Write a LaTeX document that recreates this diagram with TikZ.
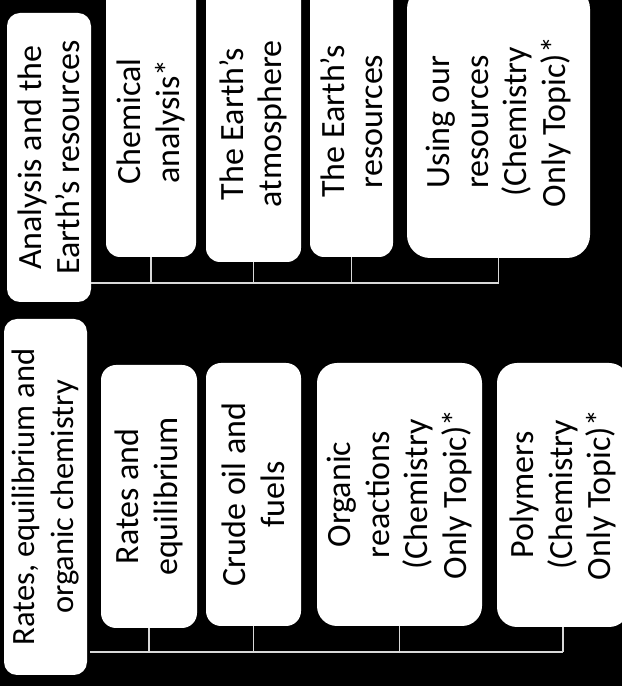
\documentclass[tikz,border=0pt]{standalone}
\usepackage{fontspec}
\setmainfont{Carlito}
\begin{document}
\begin{tikzpicture}[x=1pt,y=1pt,
  box/.style={fill=white, draw=none, rotate=90, align=center, inner sep=2pt, outer sep=0pt,
    text=black, font=\fontsize{34}{38.5}\selectfont, rounded corners=#1},
  box/.default=14pt,
  link/.style={draw=white!85!black, line width=1.4pt}]
\fill[black] (0,0) rectangle (622,686);
\useasboundingbox (0,0) rectangle (622,686);
% top group
\node[box=13pt, minimum width=289, minimum height=84] (pA) at (49,528.5)
  {Analysis and the\\Earth’s resources};
\node[box, minimum width=271, minimum height=90] (a1) at (151,564.5)
  {Chemical\\analysis*};
\node[box, minimum width=276, minimum height=95] (a2) at (253.5,562)
  {The Earth’s\\atmosphere};
\node[box, minimum width=271, minimum height=83] (a3) at (351.5,564.5)
  {The Earth’s\\resources};
\node[box=23pt, minimum width=272, minimum height=183] (a4) at (498.5,564)
  {Using our\\resources\\(Chemistry\\Only Topic)*};
\coordinate (hA) at (0,403);
\draw[link] (pA.south |- hA) -- (a4.west |- hA);
\foreach \n in {a1,a2,a3,a4} \draw[link] (\n.west) -- (\n.west |- hA);
% bottom group
\node[box=13pt, minimum width=356, minimum height=83, font=\fontsize{32.5}{38.5}\selectfont] (pB) at (45.5,189)
  {Rates, equilibrium and\\organic chemistry};
\node[box=15pt, minimum width=263, minimum height=96] (b1) at (149,189.5)
  {Rates and\\equilibrium};
\node[box=15pt, minimum width=263, minimum height=95] (b2) at (253.5,191.5)
  {Crude oil and\\fuels};
\node[box=20pt, minimum width=263, minimum height=165] (b3) at (399.5,191.5)
  {Organic\\reactions\\(Chemistry\\Only Topic)*};
\node[box=20pt, minimum width=264, minimum height=132] (b4) at (563,191)
  {Polymers\\(Chemistry\\Only Topic)*};
\coordinate (hB) at (0,34);
\draw[link] ([xshift=3pt]pB.south |- hB) -- (b4.west |- hB);
\foreach \n in {b1,b2,b3,b4} \draw[link] (\n.west) -- (\n.west |- hB);
\end{tikzpicture}
\end{document}
